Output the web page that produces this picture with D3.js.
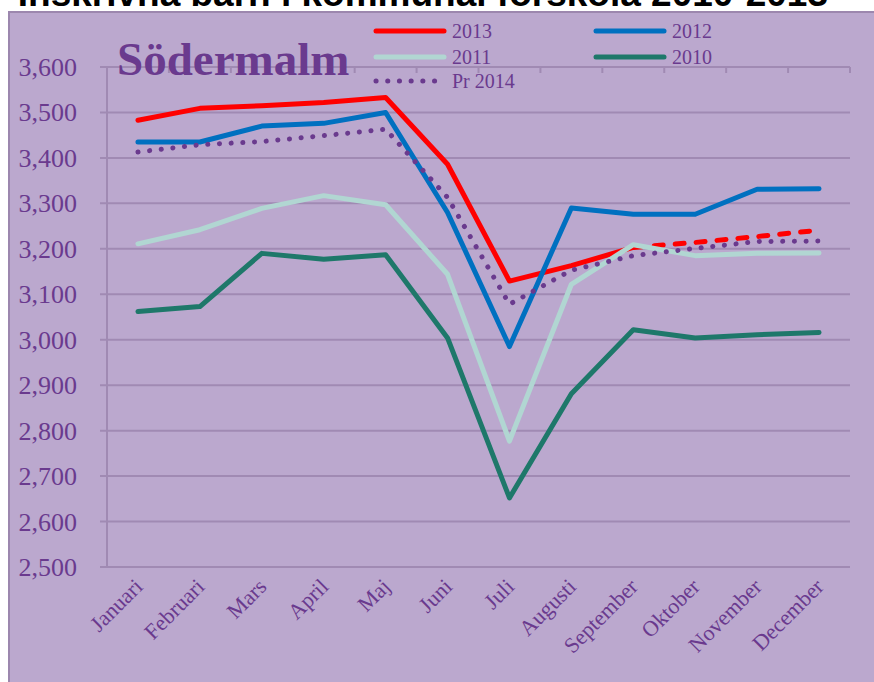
<!DOCTYPE html>
<html>
<head>
<meta charset="utf-8">
<script src="https://cdn.jsdelivr.net/npm/d3@7"></script>
<style>
  body { margin: 0; background: #fff; }
  svg { display: block; }
</style>
</head>
<body>
<div id="chart"></div>
<script>
// months on the category axis
var months = ["Januari","Februari","Mars","April","Maj","Juni","Juli","Augusti","September","Oktober","November","December"];
var yTicks = [2500,2600,2700,2800,2900,3000,3100,3200,3300,3400,3500,3600];

// values
var v2013 = [3483,3509,3515,3522,3533,3386,3129,3163,3203,3214,3227,3241];
var v2012 = [3435,3435,3470,3476,3500,3280,2985,3290,3276,3276,3331,3332];
var v2011 = [3211,3242,3289,3317,3297,3144,2777,3122,3209,3185,3190,3191];
var v2010 = [3062,3073,3190,3177,3187,3004,2652,2881,3022,3004,3011,3016];
var pr2014 = [3413,3429,3436,3449,3463,3313,3078,3153,3185,3201,3216,3217];
var forecastFrom = 8; // 2013 is dashed from September on

var width = 874, height = 682;
var purple = "#6a3a8e", grid = "#a08ab3";

var svg = d3.select("#chart").append("svg").attr("width", width).attr("height", height);

// page title, mostly cut off at the top
svg.append("text").attr("x", 828).attr("y", 6).attr("text-anchor", "end")
  .style("font-family", "Liberation Sans, Arial").style("font-weight", "bold").style("font-size", "37px")
  .text("Inskrivna barn i kommunal förskola 2010-2013");

// panel
svg.append("rect").attr("x", 9).attr("y", 12).attr("width", 880).attr("height", 690)
  .attr("fill", "#bba8ce").attr("stroke", "#9c87ae").attr("stroke-width", 2);

var x = d3.scaleBand().domain(months).range([107, 850]).padding(0);
var y = d3.scaleLinear().domain([2500, 3600]).range([567, 67]);
var cx = function(i) { return x(months[i]) + x.bandwidth() / 2; };

// gridlines
svg.append("g").selectAll("line").data(yTicks).enter().append("line")
  .attr("x1", 100).attr("x2", 850)
  .attr("y1", function(d) { return y(d); }).attr("y2", function(d) { return y(d); })
  .attr("stroke", grid).attr("stroke-width", 2);

// y axis line
svg.append("line").attr("x1", 107).attr("x2", 107).attr("y1", y(3600)).attr("y2", y(2500))
  .attr("stroke", grid).attr("stroke-width", 2);

// little tick marks hanging from the top line
svg.append("g").selectAll("line").data(months.map(function(m) { return x(m) + x.bandwidth(); })).enter().append("line")
  .attr("x1", function(d) { return d; }).attr("x2", function(d) { return d; })
  .attr("y1", y(3600)).attr("y2", y(3600) + 6)
  .attr("stroke", grid).attr("stroke-width", 2);

// y labels
svg.append("g").selectAll("text").data(yTicks).enter().append("text")
  .attr("x", 77).attr("y", function(d) { return y(d) + 9; })
  .attr("text-anchor", "end")
  .style("font-family", "Liberation Serif, Times New Roman").style("font-size", "26px")
  .attr("fill", purple)
  .text(d3.format(","));

// x labels
svg.append("g").selectAll("text").data(months).enter().append("text")
  .attr("text-anchor", "end")
  .attr("transform", function(d, i) { return "translate(" + (cx(i) + 6) + ",588) rotate(-45)"; })
  .style("font-family", "Liberation Serif, Times New Roman").style("font-size", "22px")
  .attr("fill", purple)
  .text(function(d) { return d; });

var line = d3.line().x(function(d) { return cx(d.i); }).y(function(d) { return y(d.v); });
function pts(arr, from, to) {
  return arr.map(function(v, i) { return {i: i, v: v}; }).slice(from, to);
}
function draw(data, color, dash) {
  svg.append("path").datum(data).attr("d", line)
    .attr("fill", "none").attr("stroke", color).attr("stroke-width", 5)
    .attr("stroke-linejoin", "round").attr("stroke-linecap", "round")
    .attr("stroke-dasharray", dash || null);
}

draw(pts(v2013, 0, forecastFrom + 1), "#ff0000");
draw(pts(v2013, forecastFrom, 12), "#ff0000", "9 12");
draw(pts(v2012, 0, 12), "#0070c0");
draw(pts(v2011, 0, 12), "#b1d6d2");
draw(pts(v2010, 0, 12), "#1e786a");
draw(pts(pr2014, 0, 12), purple, "0.1 11.6");

// district name
svg.append("text").attr("x", 117).attr("y", 75)
  .style("font-family", "Liberation Serif, Times New Roman").style("font-weight", "bold").style("font-size", "47px")
  .attr("fill", purple).text("Södermalm");

// legend
var legend = [
  {name: "2013", color: "#ff0000", lx: 376, ly: 31},
  {name: "2012", color: "#0070c0", lx: 596, ly: 31},
  {name: "2011", color: "#b1d6d2", lx: 376, ly: 57},
  {name: "2010", color: "#1e786a", lx: 596, ly: 57},
  {name: "Pr 2014", color: purple, lx: 376, ly: 81, dash: "0.1 11.6"}
];
var lg = svg.append("g").selectAll("g").data(legend).enter().append("g");
lg.append("line")
  .attr("x1", function(d) { return d.lx; }).attr("x2", function(d) { return d.lx + 68; })
  .attr("y1", function(d) { return d.ly; }).attr("y2", function(d) { return d.ly; })
  .attr("stroke", function(d) { return d.color; }).attr("stroke-width", 5)
  .attr("stroke-linecap", "round")
  .attr("stroke-dasharray", function(d) { return d.dash || null; });
lg.append("text")
  .attr("x", function(d) { return d.lx + 76; }).attr("y", function(d) { return d.ly + 7; })
  .style("font-family", "Liberation Serif, Times New Roman").style("font-size", "20px")
  .attr("fill", purple)
  .text(function(d) { return d.name; });
</script>
</body>
</html>
